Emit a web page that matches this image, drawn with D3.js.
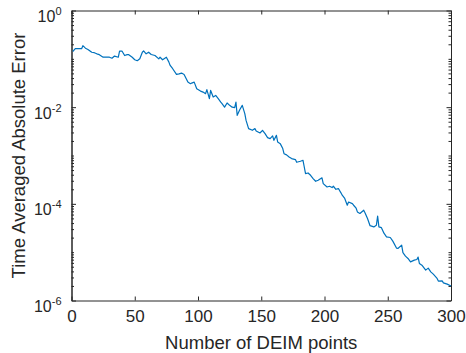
<!DOCTYPE html>
<html>
<head>
<meta charset="utf-8">
<script src="https://cdn.jsdelivr.net/npm/d3@7"></script>
<style>
  body { margin: 0; background: #fff; }
  svg { display: block; }
  text { font-family: "Liberation Sans", Arial, Helvetica, sans-serif; fill: #262626; }
</style>
</head>
<body>
<div id="plot"></div>
<script>
// number of DEIM points (x) and time averaged absolute error (y)
var nPts = [1, 3, 5, 8, 9, 11, 13, 16, 18, 20, 22, 25, 28, 30, 32, 34, 37, 38, 40, 42,
  44, 45, 48, 50, 52, 54, 56, 57, 59, 61, 63, 66, 69, 70, 72, 75, 77, 78, 80, 83,
  85, 87, 89, 92, 94, 95, 97, 99, 102, 104, 106, 107, 109, 110, 112, 114, 116, 118, 119, 121,
  123, 125, 127, 129, 130, 131, 133, 135, 137, 138, 140, 143, 145, 146, 149, 151, 153, 155, 157, 159,
  160, 162, 163, 165, 167, 168, 170, 172, 174, 177, 178, 181, 183, 184, 185, 187, 189, 191, 193, 195,
  198, 199, 202, 204, 206, 207, 209, 211, 213, 214, 216, 218, 219, 222, 223, 225, 226, 228, 231, 232,
  234, 236, 239, 241, 242, 243, 245, 247, 249, 252, 254, 257, 258, 261, 262, 264, 266, 268, 271, 273,
  274, 275, 277, 280, 282, 284, 286, 289, 290, 293, 294, 297, 300];
var errVals = [1.42e-1, 1.62e-1, 1.62e-1, 1.62e-1, 1.87e-1, 1.66e-1, 1.56e-1, 1.37e-1, 1.34e-1, 1.27e-1,
  1.22e-1, 1.08e-1, 1.08e-1, 1.08e-1, 1.03e-1, 1.14e-1, 1.08e-1, 1.44e-1, 1.44e-1, 1.17e-1,
  1.22e-1, 1.23e-1, 1.08e-1, 9.57e-2, 9.14e-2, 1.00e-1, 1.37e-1, 1.46e-1, 1.27e-1, 1.37e-1,
  1.23e-1, 1.17e-1, 1.00e-1, 1.08e-1, 9.57e-2, 1.08e-1, 8.55e-2, 7.31e-2, 6.24e-2, 4.76e-2,
  4.88e-2, 5.07e-2, 4.76e-2, 3.30e-2, 3.06e-2, 3.15e-2, 3.30e-2, 2.41e-2, 2.15e-2, 2.05e-2,
  1.90e-2, 2.30e-2, 1.50e-2, 2.22e-2, 1.62e-2, 1.75e-2, 1.50e-2, 1.27e-2, 1.18e-2, 1.00e-2,
  1.22e-2, 1.09e-2, 1.00e-2, 9.77e-3, 1.27e-2, 6.78e-3, 8.87e-3, 1.09e-2, 7.35e-3, 5.33e-3,
  3.60e-3, 3.32e-3, 3.60e-3, 3.21e-3, 2.92e-3, 3.32e-3, 2.83e-3, 2.34e-3, 2.23e-3, 2.55e-3,
  2.06e-3, 2.61e-3, 1.90e-3, 1.76e-3, 1.39e-3, 1.09e-3, 1.03e-3, 9.31e-4, 8.63e-4, 8.22e-4,
  7.24e-4, 7.59e-4, 7.96e-4, 5.78e-4, 4.23e-4, 4.35e-4, 3.90e-4, 3.33e-4, 2.93e-4, 3.08e-4,
  3.46e-4, 2.62e-4, 2.23e-4, 2.31e-4, 2.17e-4, 2.31e-4, 2.00e-4, 2.07e-4, 1.69e-4, 1.51e-4,
  1.29e-4, 9.35e-5, 1.09e-4, 1.01e-4, 9.35e-5, 8.11e-5, 6.81e-5, 6.31e-5, 7.38e-5, 6.55e-5,
  4.97e-5, 3.53e-5, 3.33e-5, 3.61e-5, 5.55e-5, 3.33e-5, 3.21e-5, 2.47e-5, 2.07e-5, 2.01e-5,
  1.69e-5, 1.21e-5, 1.19e-5, 1.40e-5, 9.77e-6, 8.26e-6, 7.41e-6, 6.31e-6, 6.84e-6, 7.06e-6,
  7.89e-6, 5.85e-6, 5.38e-6, 4.25e-6, 4.67e-6, 3.92e-6, 3.51e-6, 2.86e-6, 2.52e-6, 2.55e-6,
  2.32e-6, 2.18e-6, 1.99e-6];

var xTicks = [0, 50, 100, 150, 200, 250, 300];
var yTicks = [1e-6, 1e-4, 1e-2, 1];
var yExponents = ["-6", "-4", "-2", "0"];
var xLabel = "Number of DEIM points";
var yLabel = "Time Averaged Absolute Error";

var margin = { top: 10.5, right: 15, bottom: 52.5, left: 71.5 },
  width = 466 - margin.left - margin.right,
  height = 353 - margin.top - margin.bottom;

var svg = d3.select("#plot")
  .append("svg")
  .attr("width", 466)
  .attr("height", 353)
  .append("g")
  .attr("transform", "translate(" + margin.left + "," + margin.top + ")");

var x = d3.scaleLinear()
  .domain([0, 300])
  .range([0, width]);

var y = d3.scaleLog()
  .domain([1e-6, 1])
  .range([height, 0]);

// minor ticks on the log axis (everything that is not a labelled decade)
var yMinor = y.ticks().filter(function (v) { return yTicks.indexOf(v) < 0; });

var axisColor = "#262626";

function styleAxis(g) {
  g.selectAll("path").attr("stroke", axisColor).attr("stroke-width", 1);
  g.selectAll("line").attr("stroke", axisColor).attr("stroke-width", 1);
}

// bottom axis
var gx = svg.append("g")
  .attr("transform", "translate(0," + height + ")")
  .call(d3.axisBottom(x).tickValues(xTicks).tickSizeInner(-4).tickSizeOuter(0).tickPadding(9));
gx.selectAll("text").style("font-size", "17px");
styleAxis(gx);

// top axis
var gxt = svg.append("g")
  .call(d3.axisTop(x).tickValues(xTicks).tickSizeInner(-4).tickSizeOuter(0).tickFormat(""));
styleAxis(gxt);

// left axis, majors with 10^n labels
var gy = svg.append("g")
  .call(d3.axisLeft(y).tickValues(yTicks).tickSizeInner(-4.5).tickSizeOuter(0).tickPadding(10));
styleAxis(gy);
gy.selectAll(".tick text")
  .attr("dy", null)
  .attr("y", 11)
  .style("font-size", "16px")
  .text(null)
  .each(function (d, i) {
    var t = d3.select(this);
    t.append("tspan").text("10");
    t.append("tspan")
      .attr("dy", -7)
      .style("font-size", "11px")
      .text(yExponents[i]);
  });

var gym = svg.append("g")
  .call(d3.axisLeft(y).tickValues(yMinor).tickSizeInner(-2.5).tickSizeOuter(0).tickFormat(""));
styleAxis(gym);

// right axis
var gyr = svg.append("g")
  .attr("transform", "translate(" + width + ",0)")
  .call(d3.axisRight(y).tickValues(yTicks).tickSizeInner(-4.5).tickSizeOuter(0).tickFormat(""));
styleAxis(gyr);
var gyrm = svg.append("g")
  .attr("transform", "translate(" + width + ",0)")
  .call(d3.axisRight(y).tickValues(yMinor).tickSizeInner(-2.5).tickSizeOuter(0).tickFormat(""));
styleAxis(gyrm);

// data line
var pts = nPts.map(function (n, i) { return { n: n, e: errVals[i] }; });
svg.append("path")
  .datum(pts)
  .attr("fill", "none")
  .attr("stroke", "#0072BD")
  .attr("stroke-width", 1.2)
  .attr("stroke-linejoin", "round")
  .attr("d", d3.line()
    .x(function (d) { return x(d.n); })
    .y(function (d) { return y(d.e); }));

// axis labels
svg.append("text")
  .attr("x", width / 2)
  .attr("y", height + 48.5)
  .attr("text-anchor", "middle")
  .style("font-size", "18.5px")
  .text(xLabel);

svg.append("text")
  .attr("transform", "translate(" + (25 - margin.left) + "," + (height / 2) + ") rotate(-90)")
  .attr("text-anchor", "middle")
  .style("font-size", "18.5px")
  .text(yLabel);
</script>
</body>
</html>
